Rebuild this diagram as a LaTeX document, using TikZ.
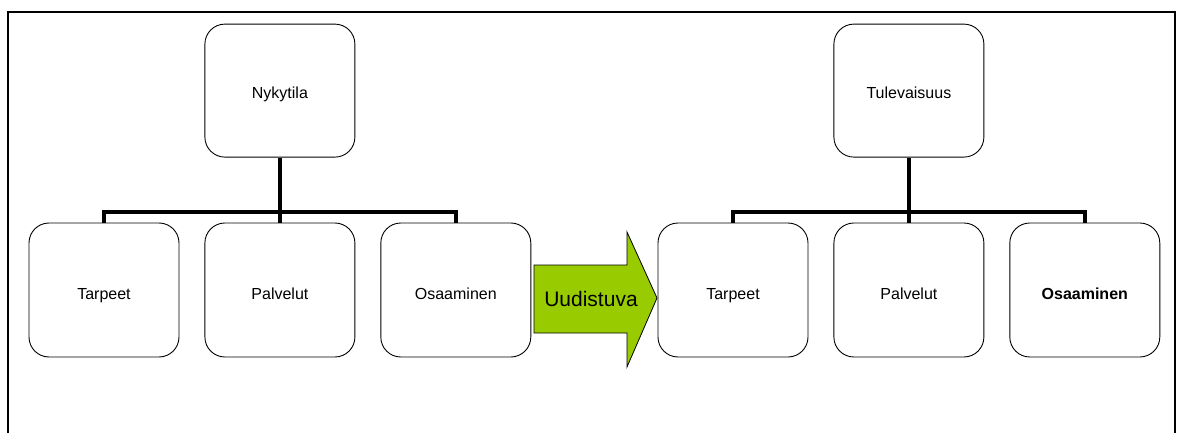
\documentclass[tikz,border=0pt]{standalone}
\usepackage{fontspec}
\setmainfont{Liberation Sans}
\usetikzlibrary{positioning}

\definecolor{arrowgreen}{RGB}{153,204,0}

\begin{document}
\begin{tikzpicture}[x=1pt, y=-1pt, node distance=25pt,
    box/.style={rectangle, draw, rounded corners=20pt, line width=0.9pt, minimum width=150pt, minimum height=134pt, text height=18pt, text depth=0pt, font=\fontsize{16}{19}\selectfont},
    conn/.style={draw, line width=4pt, miter limit=2}]
\useasboundingbox (0,0) rectangle (1178,433);
\draw[line width=1.6pt] (8,433) -- (8,12) -- (1175,12) -- (1175,433);

% nykytila
\node [box] (tarpeet1) at (104,290) {Tarpeet};
\node [box, right=of tarpeet1] (palvelut1) {Palvelut};
\node [box, right=of palvelut1] (osaaminen1) {Osaaminen};
\node [box, minimum height=133pt, text height=15pt, above=65pt of palvelut1] (nykytila) {Nykytila};
\draw [conn] (nykytila) -- (palvelut1);
\draw [conn] (tarpeet1.north) -- ++(0,-11) -| (osaaminen1.north);

% tulevaisuus
\node [box] (tarpeet2) at (733,290) {Tarpeet};
\node [box, right=of tarpeet2] (palvelut2) {Palvelut};
\node [box, right=of palvelut2] (osaaminen2) {\textbf{Osaaminen}};
\node [box, minimum height=133pt, text height=15pt, above=65pt of palvelut2] (tulevaisuus) {Tulevaisuus};
\draw [conn] (tulevaisuus) -- (palvelut2);
\draw [conn] (tarpeet2.north) -- ++(0,-11) -| (osaaminen2.north);

% uudistuva
\draw [fill=arrowgreen, line width=0.8pt] (534,265) -- (627,265) -- (627,232) -- (657,298)
    -- (627,367) -- (627,333) -- (534,333) -- cycle;
\node [font=\fontsize{21}{25}\selectfont] (uudistuva) at (591,299) {Uudistuva};
\end{tikzpicture}
\end{document}
